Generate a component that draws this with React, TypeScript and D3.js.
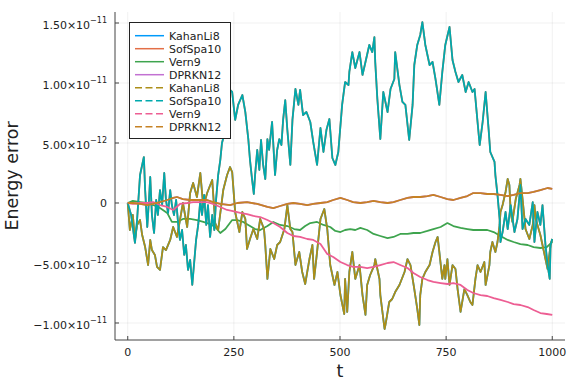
import React from "react";
import * as d3 from "d3";

// ---------- data (energy values in units of 1e-12) ----------
const ENERGY_UNIT = 1e-12;
const T_TICKS = [0, 250, 500, 750, 1000];
const Y_TICKS = [-1e-11, -5e-12, 0, 5e-12, 1e-11, 1.5e-11];
const SERIES_NAMES = ["KahanLi8", "SofSpa10", "Vern9", "DPRKN12", "KahanLi8", "SofSpa10", "Vern9", "DPRKN12"];

const KAHANLI8: [number, number][] = [
  [0,0],[5,-2.25],[12,-1.0],[17,-3.08],[22,-1.83],[29,-1.42],[34,-2.67],[41,-3.67],[48,-5.17],[53,-3.08],
  [57,-3.92],[64,-4.33],[69,-5.33],[76,-5.58],[83,-3.67],[90,-3.92],[100,-3.08],[107,-2.0],[116,-2.83],[123,-1.42],
  [130,0],[140,-2.0],[147,0.83],[154,1.67],[163,0.5],[171,2.5],[178,-0.33],[187,0.83],[199,1.92],[206,-1.67],
  [213,-2.25],[225,1.08],[234,2.33],[241,3.0],[246,2.58],[253,-0.75],[263,-2.42],[270,-0.75],[277,-1.33],[281,-3.83],
  [288,-3.0],[296,-2.17],[305,-3.0],[312,-1.33],[321,-2.17],[324,-3.5],[329,-6.33],[336,-3.83],[345,-4.67],[352,-3.5],
  [359,-3.25],[369,-2.17],[376,-0.17],[383,-2.17],[388,-2.42],[395,-5.17],[404,-4.08],[411,-5.75],[418,-6.75],[428,-4.67],
  [435,-3.5],[439,-6.33],[446,-4.08],[454,-1.33],[463,-0.5],[470,-2.17],[477,-5.17],[487,-6.83],[494,-5.75],[501,-7.67],
  [510,-9.25],[512,-6.33],[517,-9.08],[522,-5.75],[529,-4.08],[536,-6.33],[546,-5.17],[553,-7.67],[560,-9.33],[564,-6.83],
  [571,-6.0],[581,-5.17],[583,-4.67],[593,-6.33],[595,-7.67],[605,-10.5],[607,-10.17],[616,-8.25],[623,-8.0],[630,-7.42],
  [640,-6.83],[652,-5.75],[659,-4.67],[666,-5.17],[675,-7.17],[682,-8.83],[687,-10.17],[689,-7.67],[694,-6.33],[701,-5.75],
  [711,-5.17],[718,-4.08],[725,-3.25],[730,-2.83],[734,-4.08],[741,-6.33],[746,-5.17],[748,-6.33],[753,-4.67],[758,-6.83],
  [765,-5.17],[772,-5.5],[777,-7.17],[781,-8.25],[784,-9.08],[793,-7.17],[800,-7.67],[807,-8.25],[812,-8.5],[819,-6.33],
  [824,-5.17],[831,-5.75],[840,-4.92],[843,-6.83],[852,-5.17],[854,-4.08],[859,-3.25],[866,-4.08],[871,-3.25],[876,-1.83],
  [878,-0.75],[883,-0.17],[890,0.92],[895,2.0],[899,1.5],[902,-0.75],[906,-1.58],[914,0.33],[923,1.5],[925,2.0],
  [930,0.33],[937,-2.17],[946,-3.0],[954,-1.83],[958,-0.17],[961,-1.33],[972,-2.67],[977,-3.5],[984,-4.67],[989,-5.5],
  [996,-3.5],[1000,-3.0],
];

const SOFSPA10: [number, number][] = [
  [0,0],[8,-1.0],[17,-3.33],[22,-1.42],[29,2.33],[38,3.83],[41,1.08],[46,-2.0],[50,0.25],[53,2.17],
  [57,-1.0],[62,-2.5],[67,0.25],[71,-1.0],[76,1.08],[81,-0.17],[86,2.5],[90,0.25],[95,-0.83],[100,1.08],
  [104,-0.17],[109,-1.0],[114,0.25],[119,-1.83],[123,-3.08],[128,-2.25],[133,-4.33],[137,-3.5],[142,-5.58],[147,-4.75],
  [152,-6.83],[156,-5.17],[161,-3.08],[166,-1.83],[171,0.25],[175,-1.0],[180,0.67],[185,-1.83],[189,-0.17],[194,-2.83],
  [199,-1.0],[204,-2.25],[208,0.25],[213,2.33],[218,3.58],[222,5.0],[227,5.67],[232,7.33],[237,8.17],[241,9.42],
  [246,9.25],[253,6.92],[260,8.17],[270,9.0],[277,7.58],[284,5.33],[288,3.58],[293,1.92],[297,0.75],[300,2.33],
  [305,4.42],[310,2.75],[314,5.25],[319,3.17],[324,2.0],[329,5.33],[333,4.42],[340,6.75],[347,2.33],[352,4.42],
  [357,5.33],[362,4.83],[366,6.92],[371,8.58],[376,6.08],[383,3.17],[388,6.92],[395,9.5],[402,8.17],[406,9.42],
  [413,7.33],[421,7.58],[430,6.75],[437,5.08],[446,3.17],[454,6.25],[461,4.25],[468,6.08],[475,7.0],[482,3.75],
  [489,3.17],[496,4.25],[505,8.17],[512,10.08],[520,9.83],[522,10.92],[529,12.58],[536,11.25],[546,12.58],[553,10.67],
  [560,11.75],[569,13.17],[576,12.58],[581,13.83],[583,11.75],[588,8.67],[595,5.33],[602,9.25],[612,7.58],[619,9.5],
  [628,10.33],[630,12.58],[640,9.83],[647,8.42],[654,8.17],[663,5.25],[671,8.17],[675,11.5],[682,13.17],[689,14.0],
  [694,15.08],[701,13.17],[711,11.5],[718,11.75],[725,10.33],[734,8.17],[741,10.92],[748,13.17],[758,14.67],[765,11.92],
  [772,10.92],[779,10.08],[788,10.67],[796,9.25],[803,10.08],[812,9.25],[817,9.5],[824,6.75],[829,4.83],[836,6.75],
  [843,9.25],[850,6.17],[854,4.25],[864,3.42],[866,2.33],[871,0.67],[876,-1.33],[878,-3.25],[883,-2.42],[890,-0.75],
  [895,-2.17],[902,-0.17],[911,-2.42],[918,-1.33],[925,1.5],[930,-2.17],[937,-1.33],[946,-1.83],[954,0.08],[958,-3.25],
  [965,-0.75],[972,-1.83],[977,-0.17],[984,-3.5],[989,-5.17],[994,-6.33],[996,-3.5],[1000,-3.0],
];

const VERN9_SOLID: [number, number][] = [
  [0,0],[12,0.17],[29,0.08],[46,0],[60,-0.17],[76,-0.42],[93,-0.83],[104,-1.58],[116,-1.58],[130,-1.33],
  [147,-1.33],[163,-1.42],[178,-1.58],[194,-1.75],[206,-2.0],[218,-2.5],[230,-2.17],[246,-1.42],[258,-1.42],[272,-1.58],
  [288,-1.92],[300,-2.17],[312,-2.25],[329,-1.92],[343,-1.58],[359,-1.83],[376,-1.92],[392,-2.17],[406,-2.25],[418,-1.92],
  [430,-1.67],[446,-1.58],[461,-1.83],[477,-2.0],[489,-2.33],[501,-2.42],[512,-2.25],[524,-2.17],[536,-2.25],[548,-2.08],
  [564,-2.25],[579,-2.58],[595,-2.75],[612,-2.92],[626,-2.83],[642,-2.58],[659,-2.58],[673,-2.5],[689,-2.5],[706,-2.33],
  [720,-2.17],[737,-2.0],[753,-1.67],[767,-1.92],[784,-2.08],[800,-2.17],[814,-2.25],[831,-2.25],[847,-2.25],[862,-2.42],
  [878,-2.75],[895,-3.08],[909,-3.25],[925,-3.42],[942,-3.5],[956,-3.67],[972,-3.75],[987,-3.67],[1000,-3.25],
];

const VERN9_DASH: [number, number][] = [
  [0,0],[12,-0.08],[29,0],[46,0],[60,0.08],[76,-0.17],[93,-0.33],[107,-0.58],[123,-0.08],[140,0],
  [154,0.08],[171,0.08],[187,0.08],[201,-0.08],[218,-0.33],[234,-0.58],[248,-0.67],[265,-0.83],[281,-0.92],[296,-1.08],
  [312,-1.17],[329,-1.42],[343,-1.67],[359,-2.0],[376,-2.5],[390,-2.75],[406,-2.83],[423,-3.0],[437,-3.08],[454,-3.42],
  [470,-4.25],[484,-4.5],[501,-4.92],[517,-5.17],[531,-5.33],[548,-5.33],[564,-5.42],[579,-5.33],[595,-5.17],[612,-5.0],
  [626,-4.92],[642,-5.17],[659,-5.42],[673,-5.83],[689,-6.17],[706,-6.42],[720,-6.58],[737,-6.67],[753,-6.75],[767,-6.67],
  [784,-6.83],[800,-7.25],[814,-7.5],[831,-7.67],[847,-7.75],[862,-7.92],[878,-8.08],[895,-8.25],[909,-8.42],[925,-8.5],
  [942,-8.67],[956,-8.92],[972,-9.17],[987,-9.25],[1000,-9.33],
];

const DPRKN12: [number, number][] = [
  [0,0],[12,0],[29,-0.08],[46,-0.17],[60,-0.08],[76,0.08],[93,0.25],[107,0.42],[116,0.5],[130,0.33],
  [147,0.25],[163,0.25],[187,0.25],[201,0.08],[218,-0.08],[241,-0.17],[258,0],[281,0.08],[305,-0.08],[329,-0.33],
  [343,-0.42],[359,-0.25],[376,-0.08],[390,0],[406,-0.08],[423,-0.17],[437,-0.08],[454,0],[470,0.08],[484,0.25],
  [501,0.42],[517,0.25],[531,0.08],[548,0],[564,0.08],[579,0.17],[595,0.08],[612,0],[626,0.08],[642,0.25],
  [659,0.42],[673,0.5],[689,0.5],[706,0.58],[720,0.67],[737,0.5],[753,0.33],[767,0.25],[784,0.42],[800,0.58],
  [814,0.83],[831,0.83],[847,0.75],[862,0.75],[878,0.67],[895,0.58],[909,0.67],[925,0.83],[942,0.83],[956,0.92],
  [972,1.08],[989,1.25],[1000,1.17],
];

const SERIES_DATA = [KAHANLI8, SOFSPA10, VERN9_SOLID, DPRKN12, KAHANLI8, SOFSPA10, VERN9_DASH, DPRKN12];

// ---------- styles ----------
const COLORS = ["#009AFA", "#E36F47", "#3EA44E", "#C271D2", "#AC8E18", "#00A9AD", "#ED5E93", "#C68225"];
const DASHED = [false, false, false, false, true, true, true, true];
const FONT = "DejaVu Sans, Verdana, sans-serif";

const W = 576, H = 384;
const L = 115, R = 565, T = 12, B = 340;

function yLabel(v: number) {
  if (v === 0) return { m: "0", e: "" };
  const e = Math.floor(Math.log10(Math.abs(v)) + 1e-9);
  const m = v / Math.pow(10, e);
  return { m: (m < 0 ? "\u2212" : "") + Math.abs(m).toFixed(2) + "\u00d710", e: "\u2212" + Math.abs(e) };
}

export default function App() {
  const x = d3.scaleLinear().domain([-30, 1030]).range([L, R]);
  const y = d3.scaleLinear().domain([-11.4167e-12, 15.9167e-12]).range([B, T]);
  const line = d3
    .line<[number, number]>()
    .x((d) => x(d[0]))
    .y((d) => y(d[1] * ENERGY_UNIT));

  return (
    <svg width={W} height={H} style={{ position: "absolute", left: 0, top: 0, background: "#fff" }} fontFamily={FONT}>
      <defs>
        <clipPath id="plotclip">
          <rect x={L} y={T} width={R - L} height={B - T} />
        </clipPath>
      </defs>
      <rect x={0} y={0} width={W} height={H} fill="#fff" />
      {/* grid */}
      {T_TICKS.map((t) => (
        <line key={"gx" + t} x1={x(t)} x2={x(t)} y1={T} y2={B} stroke="#000" strokeOpacity={0.1} strokeWidth={0.6} />
      ))}
      {Y_TICKS.map((v) => (
        <line key={"gy" + v} x1={L} x2={R} y1={y(v)} y2={y(v)} stroke="#000" strokeOpacity={0.1} strokeWidth={0.6} />
      ))}
      {/* series: dense data makes the dashed variants render as continuous lines */}
      <g clipPath="url(#plotclip)">
        {SERIES_DATA.map((data, i) => (
          <path
            key={"s" + i}
            d={line(data) || ""}
            fill="none"
            stroke={COLORS[i]}
            strokeWidth={1.8}
            strokeLinejoin="round"
          />
        ))}
      </g>
      {/* axes */}
      <line x1={L} x2={L} y1={T} y2={B} stroke="#444" strokeWidth={1} />
      <line x1={L} x2={R} y1={B} y2={B} stroke="#444" strokeWidth={1} />
      {T_TICKS.map((t) => (
        <g key={"tx" + t}>
          <line x1={x(t)} x2={x(t)} y1={B} y2={B - 4} stroke="#444" strokeWidth={1} />
          <text x={x(t)} y={B + 16} textAnchor="middle" fontSize={11} fill="#222">
            {t}
          </text>
        </g>
      ))}
      {Y_TICKS.map((v) => {
        const lab = yLabel(v);
        return (
          <g key={"ty" + v}>
            <line x1={L} x2={L + 4} y1={y(v)} y2={y(v)} stroke="#444" strokeWidth={1} />
            <text x={L - 8} y={y(v) + (lab.e ? 6 : 4)} textAnchor="end" fontSize={11} fill="#222">
              {lab.m}
              {lab.e ? (
                <tspan dy={-6} fontSize={8}>
                  {lab.e}
                </tspan>
              ) : null}
            </text>
          </g>
        );
      })}
      {/* axis labels */}
      <text x={(L + R) / 2} y={377} textAnchor="middle" fontSize={17.5} fill="#222">
        t
      </text>
      <text transform={`translate(18,${(T + B) / 2}) rotate(-90)`} textAnchor="middle" fontSize={17.5} fill="#222">
        Energy error
      </text>
      {/* legend */}
      <rect x={129.5} y={22.5} width={101} height={116} fill="#fff" stroke="#222" strokeWidth={1} />
      {SERIES_NAMES.map((name, i) => {
        const ly = 35.7 + 13 * i;
        return (
          <g key={"lg" + i}>
            <line
              x1={135}
              x2={164}
              y1={ly}
              y2={ly}
              stroke={COLORS[i]}
              strokeWidth={1.5}
              strokeDasharray={DASHED[i] ? "7,3.5" : undefined}
            />
            <text x={169} y={ly + 4} fontSize={11} fill="#222">
              {name}
            </text>
          </g>
        );
      })}
    </svg>
  );
}
